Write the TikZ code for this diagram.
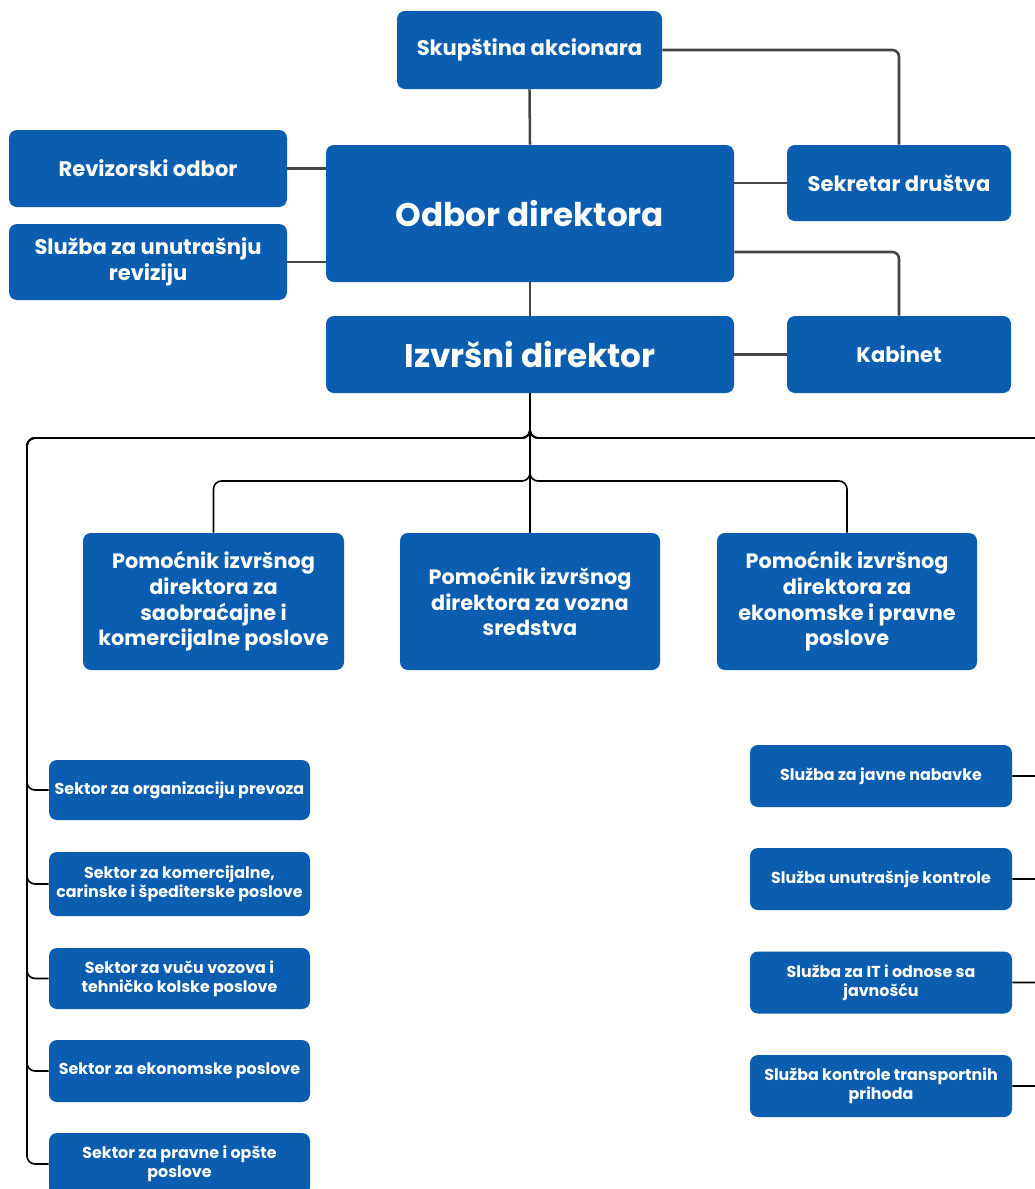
\documentclass[tikz,border=0pt]{standalone}
\usepackage{fontspec}
\setmainfont{Poppins}
\usetikzlibrary{calc}
\definecolor{boxblue}{HTML}{0B5DB0}
\definecolor{topline}{HTML}{454545}
\begin{document}
\begin{tikzpicture}[x=0.75pt,y=-0.75pt,
  bx/.style n args={2}{draw=none,fill=boxblue,rounded corners=6pt,text=white,align=center,
    minimum width=#1*0.75pt,minimum height=#2*0.75pt,inner sep=0pt},
  fbig/.style={font=\fontsize{24.5}{29}\selectfont\bfseries},
  fmed/.style={font=\fontsize{15.8}{20}\selectfont\bfseries},
  fpom/.style={font=\fontsize{15.6}{19.2}\selectfont\bfseries},
  fsm/.style={font=\fontsize{11.9}{14.6}\selectfont\bfseries},
  tl/.style={draw=topline,line width=1.9pt,rounded corners=5pt},
  bl/.style={draw=black,line width=1.2pt,rounded corners=6pt}]
\useasboundingbox (0,0) rectangle (1035,1189);
\fill[white] (0,0) rectangle (1035,1189);
\clip (0,0) rectangle (1035,1189);
% top level
\node[bx={265}{78},fmed] (skup) at (529.5,50) {Skupština akcionara};
\node[bx={278}{77},fmed] (rev) at (148,168.5) {Revizorski odbor};
\node[bx={278}{76},fmed] (sur) at (148,262) {Služba za unutrašnju\\reviziju};
\node[bx={408}{137},fbig] (odbor) at (530,213.5) {Odbor direktora};
\node[bx={224}{76},fmed] (sek) at (899,183) {Sekretar društva};
\node[bx={408}{77},fbig] (izv) at (530,354.5) {Izvršni direktor};
\node[bx={224}{77},fmed] (kab) at (899,354.5) {Kabinet};
% assistants
\node[bx={261}{137},fpom] (p1) at (213.5,601.5) {Pomoćnik izvršnog\\direktora za\\saobraćajne i\\komercijalne poslove};
\node[bx={260}{137},fpom] (p2) at (530,601.5) {Pomoćnik izvršnog\\direktora za vozna\\sredstva};
\node[bx={260}{137},fpom] (p3) at (847,601.5) {Pomoćnik izvršnog\\direktora za\\ekonomske i pravne\\poslove};
% sectors
\node[bx={261}{60},fsm] (s1) at (179.5,790) {Sektor za organizaciju prevoza};
\node[bx={261}{64},fsm] (s2) at (179.5,884) {Sektor za komercijalne,\\carinske i špediterske poslove};
\node[bx={261}{61},fsm] (s3) at (179.5,978.5) {Sektor za vuču vozova i\\tehničko kolske poslove};
\node[bx={261}{62},fsm] (s4) at (179.5,1071) {Sektor za ekonomske poslove};
\node[bx={261}{62},fsm] (s5) at (179.5,1164) {Sektor za pravne i opšte\\poslove};
% services
\node[bx={262}{62},fsm] (r1) at (881,776) {Služba za javne nabavke};
\node[bx={262}{62},fsm] (r2) at (881,879) {Služba unutrašnje kontrole};
\node[bx={262}{62},fsm] (r3) at (881,982.5) {Služba za IT i odnose sa\\javnošću};
\node[bx={262}{62},fsm] (r4) at (881,1086) {Služba kontrole transportnih\\prihoda};
% helper coordinates
\coordinate (kabrow) at (0,252);
\coordinate (j1) at (530,438);
\coordinate (j2) at (530,481);
\coordinate (lx) at (27,438);
\coordinate (rx) at (1050,438);
% top connectors
\draw[tl] (skup.south) -- (odbor.north);
\draw[tl] (skup.east) -| (sek.north);
\draw[tl] (rev.east) -- (rev.east -| odbor.west);
\draw[tl] (sur.east) -- (sur.east -| odbor.west);
\draw[tl] (odbor.east |- sek.west) -- (sek.west);
\draw[tl] (odbor.east |- kabrow) -| (kab.north);
\draw[tl] (odbor.south) -- (izv.north);
\draw[tl] (izv.east) -- (kab.west);
% lower connectors
\draw[bl] (izv.south) -- (p2.north);
\draw[bl] (izv.south) -- (j2) -| (p1.north);
\draw[bl] (izv.south) -- (j2) -| (p3.north);
\foreach \s in {s1,s2,s3,s4,s5}{
  \draw[bl] (izv.south) -- (j1) -- (lx) |- (\s.west);
}
\foreach \r in {r1,r2,r3,r4}{
  \draw[bl] (izv.south) -- (j1) -- (rx) |- (\r.east);
}
\end{tikzpicture}
\end{document}
